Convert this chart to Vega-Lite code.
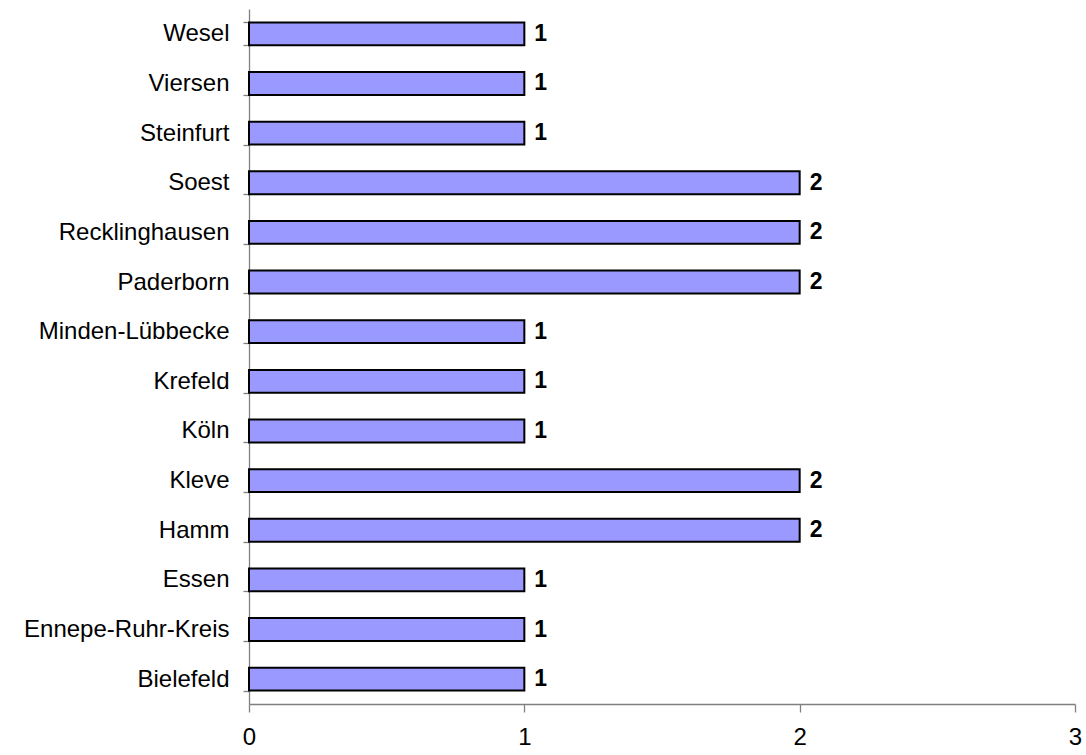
{
  "$schema": "https://vega.github.io/schema/vega-lite/v6.json",
  "autosize": "none",
  "width": 826,
  "height": 695,
  "padding": {"left": 249, "top": 9, "right": 11, "bottom": 51},
  "background": "white",
  "config": {"view": {"stroke": null}, "font": "Liberation Sans"},
  "data": {"values": [
    {"kreis": "Wesel", "anzahl": 1},
    {"kreis": "Viersen", "anzahl": 1},
    {"kreis": "Steinfurt", "anzahl": 1},
    {"kreis": "Soest", "anzahl": 2},
    {"kreis": "Recklinghausen", "anzahl": 2},
    {"kreis": "Paderborn", "anzahl": 2},
    {"kreis": "Minden-Lübbecke", "anzahl": 1},
    {"kreis": "Krefeld", "anzahl": 1},
    {"kreis": "Köln", "anzahl": 1},
    {"kreis": "Kleve", "anzahl": 2},
    {"kreis": "Hamm", "anzahl": 2},
    {"kreis": "Essen", "anzahl": 1},
    {"kreis": "Ennepe-Ruhr-Kreis", "anzahl": 1},
    {"kreis": "Bielefeld", "anzahl": 1}
  ]},
  "encoding": {
    "y": {
      "field": "kreis", "type": "nominal", "sort": null,
      "scale": {"paddingInner": 0.54, "paddingOuter": 0.27},
      "axis": {"title": null, "tickBand": "extent", "domainColor": "#808080", "tickColor": "#808080", "tickSize": 6, "labelFontSize": 24, "labelColor": "black", "labelPadding": 14, "labelFont": "Liberation Sans", "domainWidth": 1.3, "tickWidth": 1.3, "labelLimit": 400}
    },
    "x": {
      "field": "anzahl", "type": "quantitative",
      "scale": {"domain": [0, 3], "nice": false},
      "axis": {"title": null, "values": [0, 1, 2, 3], "grid": false, "domainColor": "#808080", "tickColor": "#808080", "tickSize": 8, "labelFontSize": 24, "labelColor": "black", "labelPadding": 13, "labelFont": "Liberation Sans", "domainWidth": 1.3, "tickWidth": 1.3, "labelFlush": false}
    }
  },
  "layer": [
    {"mark": {"type": "bar", "fill": "#9999FF", "stroke": "black", "strokeWidth": 2}},
    {"mark": {"type": "text", "align": "left", "dx": 10, "fontSize": 23, "fontWeight": "bold", "color": "black", "font": "Liberation Sans"},
     "encoding": {"text": {"field": "anzahl", "type": "quantitative"}}}
  ]
}
